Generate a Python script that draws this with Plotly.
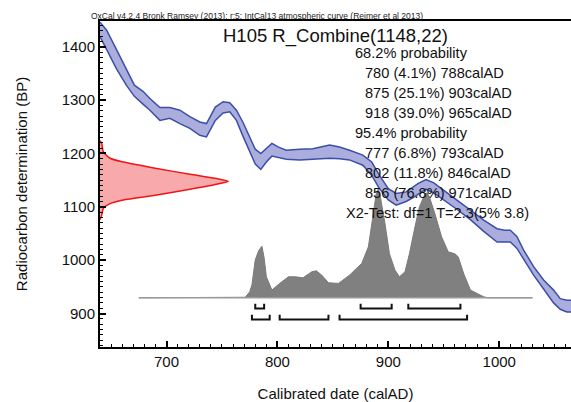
import plotly.graph_objects as go

# ---------------- data ----------------
# IntCal13 calibration curve band (calAD, upper / lower BP edge)
CAL_YEARS = [640, 646, 655, 664, 671, 679, 685, 694, 703, 712,
             721, 730, 736, 744, 751, 757, 763, 769, 773, 780,
             785, 790, 795, 801, 808, 820, 832, 847, 856, 865,
             877, 885, 892, 900, 907, 916, 922, 927, 934, 941,
             950, 962, 974, 986, 998, 1005, 1010, 1016, 1022, 1031,
             1040, 1049, 1055, 1061, 1065]
CAL_UPPER = [1446, 1431, 1394, 1356, 1328, 1316, 1303, 1286, 1286, 1281,
             1269, 1259, 1256, 1287, 1297, 1295, 1281, 1258, 1240, 1208,
             1200, 1210, 1219, 1212, 1206, 1208, 1209, 1216, 1212, 1206,
             1197, 1184, 1159, 1134, 1125, 1128, 1137, 1144, 1151, 1145,
             1131, 1113, 1094, 1075, 1059, 1056, 1056, 1044, 1019, 988,
             963, 944, 928, 925, 925]
CAL_LOWER = [1419, 1394, 1358, 1327, 1307, 1292, 1281, 1262, 1266, 1256,
             1247, 1234, 1231, 1262, 1276, 1278, 1262, 1232, 1214, 1180,
             1170, 1184, 1195, 1192, 1189, 1188, 1189, 1191, 1190, 1188,
             1178, 1159, 1134, 1113, 1103, 1110, 1117, 1124, 1133, 1126,
             1113, 1095, 1076, 1054, 1034, 1034, 1034, 1022, 1002, 972,
             946, 920, 908, 903, 903]

# Radiocarbon determination (BP) and its relative probability
RC_BP = [1224, 1219, 1203, 1191, 1184, 1172, 1161, 1153, 1148, 1141,
         1133, 1122, 1113, 1106, 1097, 1084, 1076]
RC_PROB = [0, 0.013, 0.026, 0.078, 0.182, 0.442, 0.701, 0.909, 1.0, 0.883,
           0.701, 0.442, 0.182, 0.078, 0.026, 0.013, 0]

# Calibrated date distribution (calAD) and relative probability
DIST_YEARS = [765, 771, 775, 777, 780, 783, 786, 788, 790, 795,
              802, 810, 816, 823, 831, 835, 840, 846, 855, 865,
              876, 882, 886, 889, 891, 893, 897, 901, 906, 910,
              915, 919, 924, 928, 933, 935, 937, 942, 948, 954,
              960, 963, 968, 974, 980, 986, 990]
DIST_PROB = [0, 0.005, 0.055, 0.119, 0.349, 0.431, 0.474, 0.367, 0.193, 0.071,
             0.132, 0.193, 0.193, 0.183, 0.239, 0.248, 0.208, 0.138, 0.132, 0.208,
             0.316, 0.468, 0.743, 0.954, 1.0, 0.917, 0.679, 0.404, 0.254, 0.193,
             0.239, 0.404, 0.651, 0.835, 0.954, 0.963, 0.927, 0.771, 0.560, 0.422,
             0.404, 0.376, 0.220, 0.071, 0.040, 0.009, 0]
DIST_SPAN = [675, 1030]

# Highest probability ranges: (from, to, percent)
RANGES_68 = [(780, 788, 4.1), (875, 903, 25.1), (918, 965, 39.0)]
RANGES_95 = [(777, 793, 6.8), (802, 846, 11.8), (856, 971, 76.8)]

SAMPLE_NAME = "H105 R_Combine(1148,22)"
X2_TEXT = "X2-Test: df=1 T=2.3(5% 3.8)"
HEADER = "OxCal v4.2.4 Bronk Ramsey (2013); r:5; IntCal13 atmospheric curve (Reimer et al 2013)"

X_TICKS = [700, 800, 900, 1000]
Y_TICKS = [900, 1000, 1100, 1200, 1300, 1400]

# ---------------- style / layout constants ----------------
W, H = 571, 402
ML, MR, MT, MB = 100, 0, 21, 55
X_RANGE = [640, 1064.7]
Y_RANGE = [837.4, 1448.2]
PW, PH = W - ML - MR, H - MT - MB
FONT = "Liberation Sans, Arial, Helvetica, sans-serif"

RC_WIDTH_YEARS = 115.7     # horizontal extent of radiocarbon peak
DIST_BASE = 929.6          # BP level of distribution baseline
DIST_HEIGHT = 204          # BP height of highest distribution peak
R68_Y, R95_Y, TICK_H = 909.4, 888.7, 9


def px(x):
    return (x - ML) / PW


def py(y):
    return (H - MB - y) / PH


fig = go.Figure()

# calibration curve band
fig.add_trace(go.Scatter(x=CAL_YEARS, y=CAL_UPPER, mode="lines",
                         line=dict(color="#3b4fa9", width=1.5), hoverinfo="skip",
                         showlegend=False))
fig.add_trace(go.Scatter(x=CAL_YEARS, y=CAL_LOWER, mode="lines", fill="tonexty",
                         fillcolor="#abaedd", line=dict(color="#3b4fa9", width=1.5),
                         hoverinfo="skip", showlegend=False))

# radiocarbon determination (red, along y-axis)
rx = [X_RANGE[0] + p * RC_WIDTH_YEARS for p in RC_PROB]
fig.add_trace(go.Scatter(x=rx, y=RC_BP, mode="lines", fill="tozerox",
                         fillcolor="#f7a9ac",
                         line=dict(color="#f01515", width=1.5, shape="spline", smoothing=0.6),
                         hoverinfo="skip", showlegend=False))

# calibrated distribution (grey)
dx = [DIST_SPAN[0]] + DIST_YEARS + [DIST_SPAN[1]]
dy = [DIST_BASE] + [DIST_BASE + p * DIST_HEIGHT for p in DIST_PROB] + [DIST_BASE]
fig.add_trace(go.Scatter(x=dx, y=dy, mode="lines", fill="toself",
                         fillcolor="#808080", line=dict(color="#7a7a7a", width=1),
                         hoverinfo="skip", showlegend=False))
fig.add_trace(go.Scatter(x=DIST_SPAN, y=[DIST_BASE, DIST_BASE], mode="lines",
                         line=dict(color="#9a9a9a", width=1.5), hoverinfo="skip",
                         showlegend=False))

# range brackets
for ranges, ly in ((RANGES_68, R68_Y), (RANGES_95, R95_Y)):
    bx, by = [], []
    for a, b, _ in ranges:
        bx += [a, a, b, b, None]
        by += [ly + TICK_H, ly, ly, ly + TICK_H, None]
    fig.add_trace(go.Scatter(x=bx, y=by, mode="lines",
                             line=dict(color="#111111", width=2),
                             hoverinfo="skip", showlegend=False))

# text
ann = []
ann.append(dict(text=HEADER, x=px(91), y=py(16), xanchor="left", yanchor="middle",
                font=dict(size=8.5, color="#222")))
ann.append(dict(text=SAMPLE_NAME, x=px(223), y=py(36), xanchor="left", yanchor="middle",
                font=dict(size=18.5, color="#111")))
lines = [("68.2% probability", 355)]
lines += [("%d (%.1f%%) %dcalAD" % (a, p, b), 365) for a, b, p in RANGES_68]
lines += [("95.4% probability", 355)]
lines += [("%d (%.1f%%) %dcalAD" % (a, p, b), 365) for a, b, p in RANGES_95]
lines += [(X2_TEXT, 346)]
for i, (t, lx) in enumerate(lines):
    ann.append(dict(text=t, x=px(lx), y=py(53 + 20 * i), xanchor="left", yanchor="middle",
                    font=dict(size=14.6, color="#111")))
for a in ann:
    a.update(xref="paper", yref="paper", showarrow=False, borderpad=0, borderwidth=0)

axis_common = dict(showline=True, linecolor="black", linewidth=2, ticks="inside",
                   ticklen=6, tickwidth=1.5, tickcolor="black", showgrid=False,
                   zeroline=False, tickfont=dict(size=15, color="#111", family=FONT),
                   minor=dict(dtick=10, ticks="inside", ticklen=3, tickwidth=1, tickcolor="black"))

fig.update_layout(
    width=W, height=H, margin=dict(l=ML, r=MR, t=MT, b=MB, pad=0),
    paper_bgcolor="white", plot_bgcolor="white",
    font=dict(family=FONT, color="#111"),
    annotations=ann,
    xaxis=dict(range=X_RANGE, tickvals=X_TICKS, mirror=True,
               title=dict(text="Calibrated date (calAD)", font=dict(size=15), standoff=20),
               **axis_common),
    yaxis=dict(range=Y_RANGE, tickvals=Y_TICKS,
               title=dict(text="Radiocarbon determination (BP)", font=dict(size=15), standoff=30),
               **axis_common),
)
fig.update_xaxes(minor=dict(dtick=10, tick0=0))
fig.update_yaxes(minor=dict(dtick=10, tick0=0))

fig.write_html("out.html")
